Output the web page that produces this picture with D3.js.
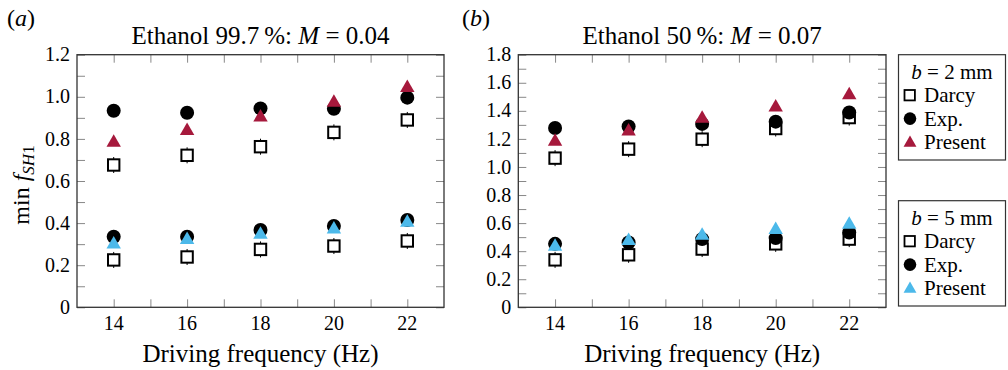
<!DOCTYPE html>
<html>
<head>
<meta charset="utf-8">
<script src="https://cdn.jsdelivr.net/npm/d3@7"></script>
<style>
body { margin: 0; background: #fff; }
</style>
</head>
<body>
<div id="chart"></div>
<script>
// driving frequencies (Hz)
const freqs = [14, 16, 18, 20, 22]

// (a) Ethanol 99.7 %, M = 0.04
const aDarcy2 = [0.676, 0.722, 0.763, 0.831, 0.890]
const aExp2 = [0.934, 0.924, 0.945, 0.943, 0.996]
const aPresent2 = [0.782, 0.838, 0.902, 0.972, 1.043]
const aDarcy5 = [0.225, 0.239, 0.275, 0.291, 0.315]
const aExp5 = [0.335, 0.335, 0.367, 0.386, 0.415]
const aPresent5 = [0.299, 0.320, 0.346, 0.370, 0.402]

// (b) Ethanol 50 %, M = 0.07
const bDarcy2 = [1.063, 1.127, 1.198, 1.274, 1.352]
const bExp2 = [1.278, 1.288, 1.307, 1.323, 1.388]
const bPresent2 = [1.181, 1.254, 1.345, 1.425, 1.513]
const bDarcy5 = [0.338, 0.374, 0.415, 0.452, 0.486]
const bExp5 = [0.452, 0.462, 0.486, 0.493, 0.533]
const bPresent5 = [0.433, 0.474, 0.511, 0.552, 0.590]

const xTicks = [14, 16, 18, 20, 22]
const xMinor = [15, 17, 19, 21]
const aYTicks = [0, 0.2, 0.4, 0.6, 0.8, 1.0, 1.2]
const bYTicks = [0, 0.2, 0.4, 0.6, 0.8, 1.0, 1.2, 1.4, 1.6, 1.8]

const red = "#a6193c"
const blue = "#4cb9ea"
const frameCol = "#333"
const tickCol = "#888"
const FONT = '"Liberation Serif", "Times New Roman", serif'

const svg = d3.select("#chart")
    .append("svg")
    .attr("width", 1008)
    .attr("height", 370)
    .attr("font-family", FONT)

function fmt(v) {
    return v == 0 ? "0" : v.toFixed(1)
}

function drawPanel(p) {
    const x = d3.scaleLinear().domain([13, 23]).range([p.left, p.right])
    const y = d3.scaleLinear().domain([0, p.yMax]).range([307.3, 54.7])
    const g = svg.append("g")

    // minor y ticks between the labelled ones
    const yMinor = p.yTicks.slice(1).map(t => t - 0.1)
    const allY = p.yTicks.concat(yMinor)
    const allX = xTicks.concat(xMinor)

    // ticks, all pointing inwards
    const axes = [
        d3.axisBottom(x).tickValues(allX).tickSize(-8).tickFormat(""),
        d3.axisTop(x).tickValues(allX).tickSize(-8).tickFormat(""),
        d3.axisLeft(y).tickValues(allY).tickSize(-8).tickFormat(""),
        d3.axisRight(y).tickValues(allY).tickSize(-8).tickFormat("")
    ]
    const pos = [`translate(0,${y(0)})`, `translate(0,${y(p.yMax)})`,
        `translate(${x(13)},0)`, `translate(${x(23)},0)`]
    axes.forEach((ax, i) => {
        const a = g.append("g").attr("transform", pos[i]).call(ax)
        a.select(".domain").remove()
        a.selectAll("text").remove()
        a.selectAll("line").attr("stroke", tickCol).attr("stroke-width", 1)
    })

    // tick labels
    g.selectAll(".xl").data(xTicks).join("text")
        .attr("x", d => x(d)).attr("y", y(0) + 23)
        .attr("text-anchor", "middle").attr("font-size", 20)
        .text(d => d)
    g.selectAll(".yl").data(p.yTicks).join("text")
        .attr("x", x(13) - 7).attr("y", d => y(d)).attr("dy", "0.33em")
        .attr("text-anchor", "end").attr("font-size", 20)
        .text(fmt)

    // frame
    g.append("rect")
        .attr("x", x(13)).attr("y", y(p.yMax))
        .attr("width", x(23) - x(13)).attr("height", y(0) - y(p.yMax))
        .attr("fill", "none").attr("stroke", frameCol).attr("stroke-width", 1.3)

    // marks: Darcy (with little error bars), Exp., Present
    const marks = g.append("g")
    for (const grp of p.groups) {
        const darcy = grp.darcy.map((v, i) => [freqs[i], v])
        marks.selectAll(null).data(darcy).join("line")
            .attr("x1", d => x(d[0])).attr("x2", d => x(d[0]))
            .attr("y1", d => y(d[1]) - 8).attr("y2", d => y(d[1]) + 8)
            .attr("stroke", "#000").attr("stroke-width", 1)
        marks.selectAll(null).data(darcy).join("rect")
            .attr("x", d => x(d[0]) - 5.7).attr("y", d => y(d[1]) - 5.7)
            .attr("width", 11.4).attr("height", 11.4)
            .attr("fill", "#fff").attr("stroke", "#000").attr("stroke-width", 2)
        marks.selectAll(null).data(grp.exp.map((v, i) => [freqs[i], v])).join("circle")
            .attr("cx", d => x(d[0])).attr("cy", d => y(d[1])).attr("r", 7)
            .attr("fill", "#000")
        marks.selectAll(null).data(grp.present.map((v, i) => [freqs[i], v])).join("path")
            .attr("transform", d => `translate(${x(d[0])},${y(d[1])})`)
            .attr("d", d3.symbol(d3.symbolTriangle, 90))
            .attr("fill", grp.color)
    }

    // titles
    g.append("text")
        .attr("x", (p.left + p.right) / 2).attr("y", 44)
        .attr("text-anchor", "middle").attr("font-size", 25)
        .html(p.title)
    g.append("text")
        .attr("x", (p.left + p.right) / 2).attr("y", 362)
        .attr("text-anchor", "middle").attr("font-size", 25)
        .text("Driving frequency (Hz)")
    g.append("text")
        .attr("x", p.labelX).attr("y", 26)
        .attr("font-size", 24)
        .html(`(<tspan font-style="italic">${p.label}</tspan>)`)
}

drawPanel({
    left: 77, right: 444, yMax: 1.2, yTicks: aYTicks, label: "a", labelX: 7,
    title: 'Ethanol 99.7\u2009%: <tspan font-style="italic">M</tspan> = 0.04',
    groups: [
        { darcy: aDarcy2, exp: aExp2, present: aPresent2, color: red },
        { darcy: aDarcy5, exp: aExp5, present: aPresent5, color: blue }
    ]
})
drawPanel({
    left: 518.3, right: 886, yMax: 1.8, yTicks: bYTicks, label: "b", labelX: 462,
    title: 'Ethanol 50\u2009%: <tspan font-style="italic">M</tspan> = 0.07',
    groups: [
        { darcy: bDarcy2, exp: bExp2, present: bPresent2, color: red },
        { darcy: bDarcy5, exp: bExp5, present: bPresent5, color: blue }
    ]
})

// y label
svg.append("text")
    .attr("transform", "translate(29,185) rotate(-90)")
    .attr("text-anchor", "middle").attr("font-size", 24)
    .html('min <tspan font-style="italic">f</tspan><tspan font-size="17" dy="5"><tspan font-style="italic">SH</tspan>1</tspan>')

// legends
const legendBoxes = [
    { top: 54.7, bottom: 160, mm: 2, color: red },
    { top: 200.7, bottom: 306, mm: 5, color: blue }
]
const legendNames = ["Darcy", "Exp.", "Present"]
for (const lb of legendBoxes) {
    const lg = svg.append("g")
    lg.append("rect")
        .attr("x", 898.5).attr("y", lb.top)
        .attr("width", 107).attr("height", lb.bottom - lb.top)
        .attr("fill", "#fff").attr("stroke", frameCol).attr("stroke-width", 1.2)
    lg.append("text")
        .attr("x", 952).attr("y", lb.top + 24)
        .attr("text-anchor", "middle").attr("font-size", 21)
        .html(`<tspan font-style="italic">b</tspan> = ${lb.mm} mm`)
    legendNames.forEach((name, i) => {
        const cy = lb.top + 40.5 + i * 23.4
        if (i == 0) {
            lg.append("rect").attr("x", 904.5).attr("y", cy - 5.2)
                .attr("width", 10.4).attr("height", 10.4)
                .attr("fill", "#fff").attr("stroke", "#000").attr("stroke-width", 1.8)
        } else if (i == 1) {
            lg.append("circle").attr("cx", 910).attr("cy", cy).attr("r", 6.3).attr("fill", "#000")
        } else {
            lg.append("path").attr("transform", `translate(910,${cy + 1})`)
                .attr("d", d3.symbol(d3.symbolTriangle, 72)).attr("fill", lb.color)
        }
        lg.append("text")
            .attr("x", 924).attr("y", cy).attr("dy", "0.33em")
            .attr("font-size", 21)
            .text(name)
    })
}
</script>
</body>
</html>
